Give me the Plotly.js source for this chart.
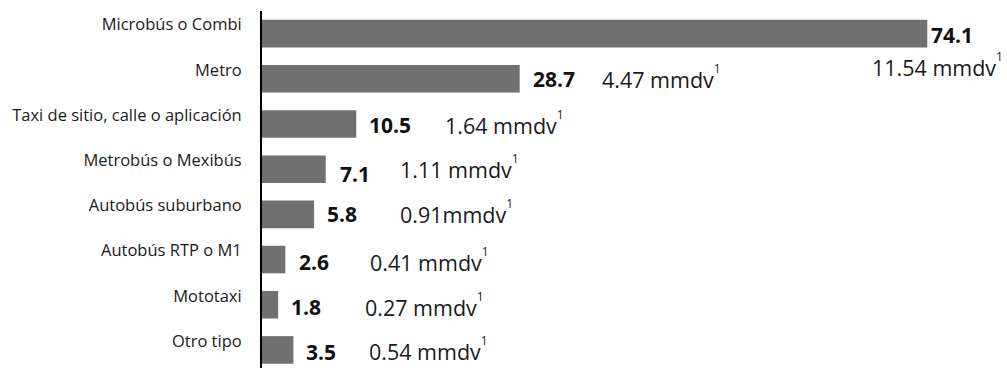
<!DOCTYPE html>
<html>
<head>
<meta charset="utf-8">
<script src="https://cdn.plot.ly/plotly-3.0.1.min.js"></script>
<style>html,body{margin:0;padding:0;background:#fff;}#chart{width:1007px;height:368px;}</style>
</head>
<body>
<div id="chart"></div>
<script>
// ---- data ----
var categories = ['Microbús o Combi', 'Metro', 'Taxi de sitio, calle o aplicación', 'Metrobús o Mexibús',
  'Autobús suburbano', 'Autobús RTP o M1', 'Mototaxi', 'Otro tipo'];
var values = [74.1, 28.7, 10.5, 7.1, 5.8, 2.6, 1.8, 3.5];
var mmdvLabels = ['11.54 mmdv', '4.47 mmdv', '1.64 mmdv', '1.11 mmdv', '0.91mmdv', '0.41 mmdv', '0.27 mmdv', '0.54 mmdv'];
var noteMark = '1';

// ---- layout offsets (pixels) ----
var valueDx = [2, 11, 11, 12, 11, 12, 11, 11];
var valueDy = [-1, 0, -1, -5, 0, -2, -2, -2];
var noteDx = [-57, 80, 87, 72, 84, 83, 85, 74];
var noteDy = [-31, 2, 1, 2, 2, 0, 0, 1];

var FONT = 'Open Sans, sans-serif';

var trace = {
  type: 'bar',
  orientation: 'h',
  y: categories,
  x: values,
  marker: {color: '#707070', line: {width: 0}},
  hoverinfo: 'skip'
};

var annotations = [];
for (var i = 0; i < categories.length; i++) {
  annotations.push({
    x: values[i], y: categories[i], xref: 'x', yref: 'y',
    text: '<b>' + values[i].toFixed(1) + '</b>',
    showarrow: false, xanchor: 'left', yanchor: 'middle',
    xshift: valueDx[i], yshift: valueDy[i],
    font: {family: FONT, size: 21, color: '#111'}
  });
  annotations.push({
    x: values[i], y: categories[i], xref: 'x', yref: 'y',
    text: mmdvLabels[i] + '<sup><sup><span style="font-size:12px">' + noteMark + '</span></sup></sup>',
    showarrow: false, xanchor: 'left', yanchor: 'middle',
    xshift: noteDx[i], yshift: noteDy[i],
    font: {family: FONT, size: 21.5, color: '#1a1a1a'}
  });
}

var layout = {
  width: 1007, height: 368,
  margin: {l: 262, r: 7, t: 11, b: 0, pad: 0},
  paper_bgcolor: '#ffffff', plot_bgcolor: '#ffffff',
  showlegend: false,
  bargap: 0.39,
  xaxis: {range: [0, 82.2], visible: false, fixedrange: true},
  yaxis: {
    type: 'category',
    range: [7.4, -0.5],
    showline: true, linecolor: '#000', linewidth: 2,
    showgrid: false, zeroline: false,
    ticks: '', ticklabelstandoff: 15, ticklabelshift: 9,
    tickfont: {family: FONT, size: 16.5, color: '#1a1a1a'},
    fixedrange: true
  },
  annotations: annotations
};

Plotly.newPlot('chart', [trace], layout, {staticPlot: true, displayModeBar: false});
</script>
</body>
</html>
